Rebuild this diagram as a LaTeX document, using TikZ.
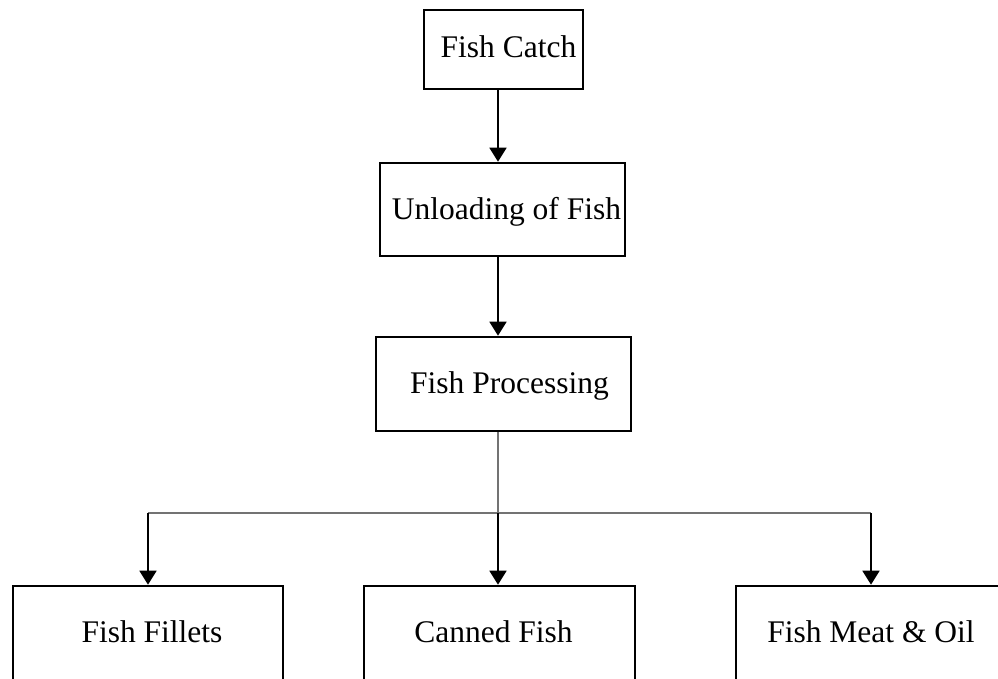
\documentclass[tikz,border=0pt]{standalone}
\usepackage{fontspec}
\setmainfont{Liberation Serif}
\usetikzlibrary{arrows.meta}
\definecolor{linkgray}{gray}{0.45}
\begin{document}
\begin{tikzpicture}[x=1pt, y=-1pt, >={Triangle[width=17pt,length=14pt]},
    box/.style={draw, line width=2.6pt, inner sep=0pt, text height=22pt, text depth=3pt,
      font=\fontsize{31.5}{37}\selectfont},
    flow/.style={->, line width=1.8pt}]
    \useasboundingbox (0,0) rectangle (998,679);
    \clip (0,0) rectangle (998,679);

    \node[box, minimum width=159, minimum height=79, text depth=5pt] (catch) at (503.5,49.5) {\hspace{10pt}Fish Catch};
    \node[box, minimum width=245, minimum height=93] (unload) at (502.5,209.5) {\hspace{8pt}Unloading of Fish};
    \node[box, minimum width=255, minimum height=94] (proc) at (503.5,384) {\hspace{12pt}Fish Processing};

    \node[box, minimum width=270, minimum height=94] (fillets) at (148,633) {\hspace{8pt}Fish Fillets};
    \node[box, minimum width=271, minimum height=94] (canned) at (499.5,633) {\hspace{-12pt}Canned Fish};
    \node[box, minimum width=270, minimum height=94] (meat) at (871,633) {Fish Meat \& Oil};

    \coordinate (spine) at (498,0);
    \coordinate (split) at (498,513);

    \draw[flow] (catch.south -| spine) -- (unload.north -| spine);
    \draw[flow] (unload.south -| spine) -- (proc.north -| spine);

    \draw[linkgray, line width=1.3pt] (proc.south -| spine) -- (split);
    \draw[linkgray, line width=1.3pt] (split -| fillets.north) -- (split -| meat.north);
    \draw[flow] (split -| fillets.north) -- (fillets.north);
    \draw[flow] (split) -- (canned.north -| split);
    \draw[flow] (split -| meat.north) -- (meat.north);
  \end{tikzpicture}
\end{document}
